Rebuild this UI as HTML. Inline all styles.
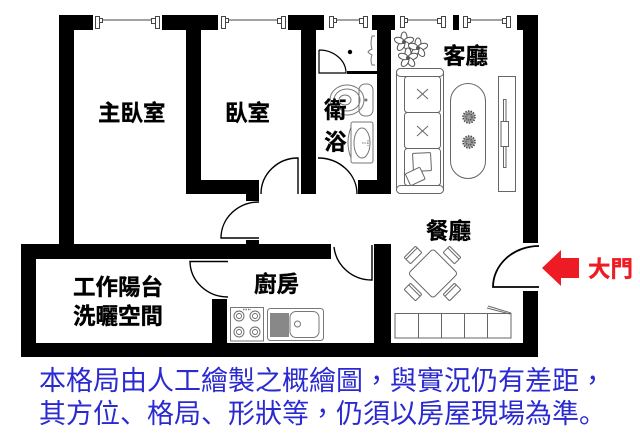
<!DOCTYPE html>
<html><head><meta charset="utf-8">
<style>
html,body{margin:0;padding:0;background:#fff;width:640px;height:437px;overflow:hidden}
svg{display:block}
text{font-family:"Liberation Sans","Noto Sans CJK TC",sans-serif}
.l{font-size:22.5px;font-weight:700;fill:#000;stroke:#000;stroke-width:.35}
.b{font-size:27px;fill:#2a2ad0}
.s{font-family:"Noto Sans CJK SC",sans-serif}
.t{font-family:"Noto Sans CJK TC",sans-serif}
</style></head><body>
<svg width="640" height="437" viewBox="0 0 640 437" xmlns="http://www.w3.org/2000/svg">
<defs>
<g id="plant"><circle r="5.5" fill="#999"/><circle r="6" fill="none" stroke="#444" stroke-width="1.5" stroke-dasharray="1.5 1.2"/><circle r="3" fill="none" stroke="#444" stroke-width="1.2" stroke-dasharray="1.2 1"/></g>
<g id="burner" fill="none" stroke="#666" stroke-width="0.9"><circle r="5"/><circle r="2.5"/></g>
<g id="chair" fill="#fff" stroke="#666" stroke-width="1"><rect x="-8" y="-4.500" width="16" height="9" rx="1"/><path d="M-8 -2H8"/></g>
<g id="fl" fill="#fff" stroke="#555" stroke-width="1"><ellipse cx="0" cy="-5" rx="3" ry="5"/><ellipse cx="0" cy="-5" rx="3" ry="5" transform="rotate(72)"/><ellipse cx="0" cy="-5" rx="3" ry="5" transform="rotate(144)"/><ellipse cx="0" cy="-5" rx="3" ry="5" transform="rotate(216)"/><ellipse cx="0" cy="-5" rx="3" ry="5" transform="rotate(288)"/><circle r="1.500" fill="#555"/></g>
</defs>
<!-- walls -->
<g fill="#000">
<rect x="59" y="15" width="34" height="15"/><rect x="59" y="15" width="15" height="230"/>
<rect x="162" y="15" width="56" height="15"/><rect x="186" y="15" width="15" height="179"/>
<rect x="186" y="180" width="73" height="14"/><rect x="246" y="194" width="13" height="7"/>
<rect x="288" y="15" width="36" height="15"/><rect x="301" y="15" width="15" height="179"/>
<rect x="372" y="15" width="23" height="15"/><rect x="377" y="15" width="14" height="179"/>
<rect x="358" y="180" width="33" height="14"/><rect x="347" y="71" width="30" height="3"/>
<rect x="453" y="15" width="6" height="15"/>
<rect x="517" y="15" width="21" height="15"/><rect x="523" y="15" width="15" height="228"/>
<rect x="523" y="291" width="15" height="66"/>
<rect x="21" y="244" width="310" height="15"/><rect x="246" y="240" width="13" height="4"/>
<rect x="21" y="244" width="15" height="113"/><rect x="21" y="343" width="517" height="14"/>
<rect x="212" y="299" width="15" height="44"/><rect x="374" y="244" width="17" height="99"/>
</g>
<!-- windows -->
<g fill="#fff" stroke="#444" stroke-width="1">
<path d="M96 20H160M226 20H281M334 20H363M405 20H438M467 20H505" fill="none"/>
<rect x="95.500" y="16.500" width="4" height="12"/><rect x="99.500" y="18.500" width="3" height="4"/>
<rect x="151.500" y="18.500" width="4" height="5"/><rect x="155.500" y="16.500" width="4" height="12"/>
<rect x="221.500" y="16.500" width="4" height="12"/><rect x="225.500" y="18.500" width="3" height="4"/>
<rect x="277.500" y="18.500" width="4" height="5"/><rect x="281.500" y="16.500" width="4" height="12"/>
<rect x="329.500" y="16.500" width="4" height="11"/><rect x="333.500" y="18.500" width="3" height="4"/>
<rect x="359.500" y="18.500" width="4" height="5"/><rect x="363.500" y="16.500" width="4" height="11"/>
<rect x="400.500" y="16.500" width="4" height="11"/><rect x="404.500" y="18.500" width="3" height="4"/>
<rect x="437.500" y="18.500" width="4" height="5"/><rect x="441.500" y="16.500" width="4" height="11"/>
<rect x="463.500" y="16.500" width="4" height="11"/><rect x="467.500" y="18.500" width="3" height="4"/>
<rect x="502.500" y="18.500" width="4" height="5"/><rect x="506.500" y="16.500" width="4" height="11"/>
</g>
<!-- doors -->
<g fill="none" stroke="#000" stroke-width="1.400">
<path d="M261 194A37 36 0 0 1 298 158V194"/>
<path d="M259 202A38 36 0 0 0 221 238H259"/>
<path d="M228 297A38 36 0 0 1 190 261.500H228"/>
<path d="M334 247A38 37 0 0 0 372 280V245"/>
<path d="M539 246A46 41 0 0 0 493 287H539" stroke-width="1.800"/>
<path d="M319 50A27 23 0 0 1 346 73H319V50" stroke-width="1.200"/>
<path d="M318 158A39 36 0 0 1 357 194" stroke-width="1.400"/>
</g>
<!-- bath -->
<circle cx="350" cy="52" r="2.200" fill="#000"/>
<g fill="none" stroke="#777" stroke-width="1">
<path d="M375 36H372Q370 44 372 49Q368 51 368 52Q370 54 372 55Q370 60 372 65H375"/>
<rect x="359" y="84" width="14" height="32" rx="6"/>
<ellipse cx="347" cy="100" rx="17" ry="15"/><ellipse cx="347" cy="100" rx="13" ry="11"/><ellipse cx="345" cy="100" rx="6" ry="5"/>
<circle cx="366" cy="100" r="1" fill="#777"/>
<rect x="351" y="122" width="22" height="41" rx="2"/>
<ellipse cx="362" cy="143" rx="8" ry="15"/>
<path d="M351 127Q345 143 351 158"/>
<path d="M362 143h8M368 140v6" stroke-dasharray="1.500 1"/>
</g>
<!-- flower -->
<use href="#fl" x="404" y="42"/><use href="#fl" x="418" y="48"/><use href="#fl" x="408" y="58"/>
<!-- sofa -->
<g fill="#fff" stroke="#666" stroke-width="1">
<rect x="396.500" y="68.500" width="47" height="125" rx="4"/>
<rect x="396.500" y="68.500" width="47" height="8" rx="4"/>
<rect x="396.500" y="185.500" width="47" height="8" rx="4"/>
<rect x="404.500" y="76.500" width="36" height="36" rx="3"/>
<rect x="404.500" y="112.500" width="36" height="36" rx="3"/>
<rect x="404.500" y="148.500" width="36" height="37" rx="3"/>
<path d="M417 89l11 10M428 89l-11 10M417 126l11 10M428 126l-11 10" fill="none"/>
<rect x="413" y="153" width="18" height="18" rx="1" transform="rotate(-3 422 162)"/>
<rect x="407" y="170" width="16" height="13" rx="1" transform="rotate(-25 415 176)"/>
<rect x="450.500" y="83.500" width="35" height="95" rx="17.500"/>
<rect x="498.500" y="76.500" width="17" height="115"/>
<rect x="503.500" y="99.500" width="2.500" height="68"/>
<rect x="501" y="121.500" width="7.500" height="25"/>
</g>
<use href="#plant" x="469" y="117"/><use href="#plant" x="469" y="142"/>
<!-- kitchen -->
<g fill="none" stroke="#777" stroke-width="1">
<rect x="230.500" y="307.500" width="33" height="33.500"/>
<rect x="267.500" y="308.500" width="56" height="32" rx="3"/>
<rect x="290" y="311.500" width="29" height="26" rx="6"/>
<circle cx="297.500" cy="324" r="3"/>
</g>
<rect x="270" y="313" width="19" height="24" fill="#888"/>
<use href="#burner" x="239" y="316"/><use href="#burner" x="255" y="316"/><use href="#burner" x="239" y="332"/><use href="#burner" x="255" y="332"/>
<path d="M243 309.500h8" stroke="#777" stroke-width="1.500" stroke-dasharray="1.500 1"/>
<!-- dining -->
<use href="#chair" transform="translate(413 255) rotate(-45)"/>
<use href="#chair" transform="translate(452 255) rotate(45)"/>
<use href="#chair" transform="translate(413 292) rotate(45)"/>
<use href="#chair" transform="translate(452 292) rotate(-45)"/>
<rect x="415.500" y="256" width="35" height="35" rx="3" transform="rotate(45 433 273.500)" fill="#fff" stroke="#666"/>
<g fill="none" stroke="#666" stroke-width="1">
<rect x="395" y="313.500" width="116" height="24.500"/>
<path d="M418.500 313V338M441.500 313V338M464.500 313V338M487.500 313V338"/>
<path d="M488 306L511 313M487 308L510 314"/>
</g>
<!-- arrow -->
<path d="M542 268L561 250V258H579V278H561V286Z" fill="#ed1c24"/>
<!-- labels -->
<text x="98" y="121" class="l">主臥室</text>
<text x="225" y="121" class="l">臥室</text>
<text x="324" y="118" class="l">衛</text>
<text x="324" y="150" class="l">浴</text>
<text x="443" y="64" class="l">客廳</text>
<text x="426" y="239" class="l">餐廳</text>
<text x="254" y="292" class="l">廚房</text>
<text x="73" y="295" class="l">工作陽台</text>
<text x="73" y="324" class="l">洗曬空間</text>
<text x="588" y="277" class="l" style="fill:#ed1c24;stroke:#ed1c24">大門</text>
<text x="39" y="390" class="b">本格局由人工繪製之概繪圖<tspan class="t">&#xFF0C;</tspan>與實況仍有差距<tspan class="t">&#xFF0C;</tspan></text>
<text x="39" y="423" class="b">其方位<tspan class="s">&#x3001;</tspan>格局<tspan class="s">&#x3001;</tspan>形狀等<tspan class="t">&#xFF0C;</tspan>仍須以房屋現場為準<tspan class="s">&#x3002;</tspan></text>
</svg>
</body></html>
